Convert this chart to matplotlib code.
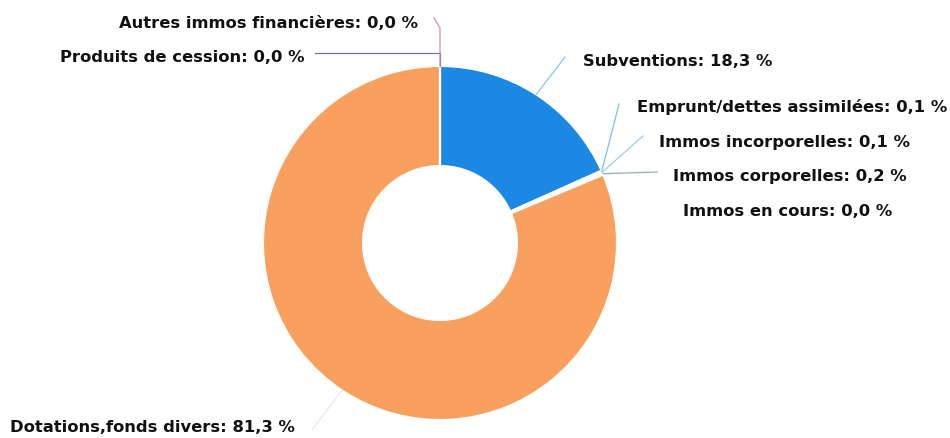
import numpy as np
import matplotlib.pyplot as plt

# Slices, clockwise from the top
labels = ['Subventions', 'Emprunt/dettes assimilées', 'Immos incorporelles',
          'Immos corporelles', 'Immos en cours', 'Dotations,fonds divers',
          'Produits de cession', 'Autres immos financières']
values = [18.3, 0.1, 0.1, 0.2, 0.0, 81.3, 0.0, 0.0]
colors = ['#1b88e3', '#5fb4e6', '#8fc9ea', '#a9b4c8', '#c0c0c0', '#f9a05e',
          '#8a6fb0', '#c77bb0']
line_colors = ['#8cc2ec', '#7fbde6', '#9ccbe9', '#9aa8bd', '#bbbbbb', '#e3e9f3',
               '#7c68a8', '#c990b8']

# label anchor (text pixel pos from top-left), alignment, leader end (pixels)
label_pos = [(583, 62, 'left'), (637, 107, 'left'), (659, 143, 'left'),
             (673, 176, 'left'), (683, 211, 'left'), (10, 428, 'left'),
             (305, 57, 'right'), (418, 23, 'right')]
elbows = [(565, 57), (619, 104), (643, 136), (657, 172), None, (312, 430),
          (315, 53), (434, 18)]

W, H = 950, 438
CX, CY, R = 440, 243, 177

fig = plt.figure(figsize=(9.5, 4.38), dpi=100)
ax = fig.add_axes([0, 0, 1, 1])

wedges, _ = ax.pie(values, colors=colors, startangle=90, counterclock=False,
                   center=(CX, H - CY), radius=R,
                   wedgeprops=dict(width=R - 77, edgecolor='white', linewidth=1.5))
ax.set_xlim(0, W)
ax.set_ylim(0, H)
ax.set_aspect('equal')
ax.axis('off')

for i, w in enumerate(wedges):
    tx, ty, ha = label_pos[i]
    ax.text(tx, H - ty, f'{labels[i]}: {values[i]:.1f} %'.replace('.', ','),
            ha=ha, va='center', fontsize=11.8, fontweight='bold', color='#111111')
    if elbows[i] is None:
        continue
    mid = np.deg2rad((w.theta1 + w.theta2) / 2)
    px = CX + R * np.cos(mid)
    py = (H - CY) + R * np.sin(mid)
    ex, ey = elbows[i]
    if i == 6:
        ax.plot([px, px, ex], [py, H - ey, H - ey], color=line_colors[i], lw=0.9)
    elif i == 7:
        ax.plot([px, px, ex], [py, H - 28, H - ey], color=line_colors[i], lw=0.9)
    else:
        ax.plot([px, ex], [py, H - ey], color=line_colors[i], lw=0.9)

fig.savefig('out.png', dpi=100, facecolor='white')
